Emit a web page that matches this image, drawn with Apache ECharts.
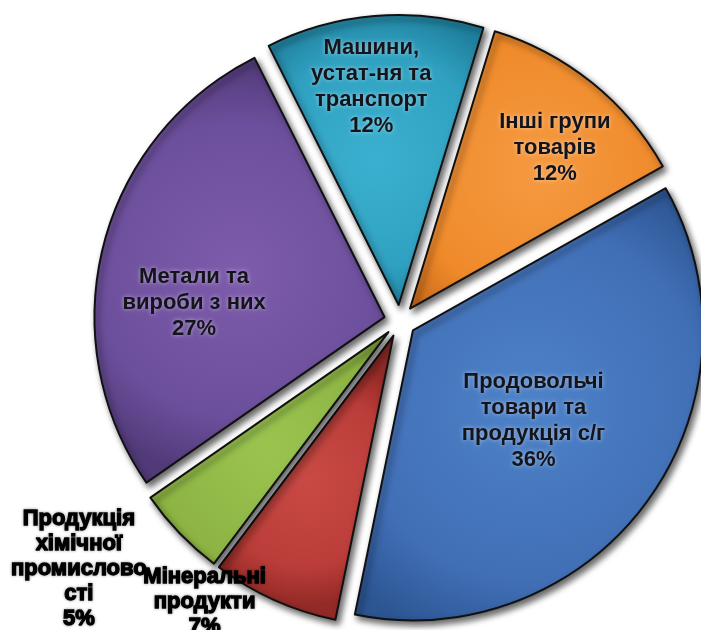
<!DOCTYPE html>
<html>
<head>
<meta charset="utf-8">
<style>
  html, body { margin: 0; padding: 0; background: #ffffff; }
  #chart { width: 701px; height: 630px; }
</style>
<script src="https://cdn.jsdelivr.net/npm/echarts@6/dist/echarts.min.js"></script>
</head>
<body>
<div id="chart"></div>
<script>
// Export structure by commodity group, per cent (clockwise from the top)
const categories = [
  'Інші групи\nтоварів',
  'Продовольчі\nтовари та\nпродукція с/г',
  'Мінеральні\nпродукти',
  'Продукція\nхімічної\nпромислово\nсті',
  'Метали та\nвироби з них',
  'Машини,\nустат-ня та\nтранспорт'
];
const values = [12, 36, 7, 5, 27, 12];

// slice fills: [light, base, dark]
const palette = [
  ['#f59a42', '#ef8a2a', '#c8681a'],
  ['#4d82c8', '#416fb6', '#2c5592'],
  ['#c94a45', '#bb3d39', '#942a27'],
  ['#9ac450', '#8db443', '#6c8c2e'],
  ['#7d5cab', '#6c4f9c', '#513a78'],
  ['#3cb0d0', '#2fa0c0', '#1f7f9c']
];
// label nudges away from the default inside position
const labelShift = [
  [52, -45], [1, 3], [-128, 131], [-203, 134], [-47, 22], [-15, -71]
];
const outsideLabel = [false, false, true, true, false, false];

const chart = echarts.init(document.getElementById('chart'), null, { renderer: 'canvas' });

const seriesData = categories.map((name, i) => ({
  name: name,
  value: values[i],
  selected: true,
  itemStyle: {
    color: {
      type: 'radial', x: 0.5, y: 0.5, r: 0.72,
      colorStops: [
        { offset: 0, color: palette[i][0] },
        { offset: 0.7, color: palette[i][1] },
        { offset: 1, color: palette[i][2] }
      ]
    }
  },
  label: outsideLabel[i] ? {
    color: '#000',
    textBorderColor: '#000',
    textBorderWidth: 1.3,
    textShadowColor: 'rgba(0,0,0,0.35)',
    textShadowBlur: 3,
    lineHeight: 25
  } : {}
}));

chart.setOption({
  animation: false,
  backgroundColor: '#ffffff',
  series: [{
    type: 'pie',
    center: [400, 321],
    radius: [0, 290],
    startAngle: 73,
    clockwise: true,
    selectedMode: 'multiple',
    selectedOffset: 16,
    avoidLabelOverlap: false,
    silent: true,
    itemStyle: {
      borderColor: '#111111',
      borderWidth: 2,
      shadowColor: 'rgba(0,0,0,0.6)',
      shadowBlur: 6,
      shadowOffsetX: 3,
      shadowOffsetY: 4
    },
    label: {
      show: true,
      position: 'inside',
      formatter: '{b}\n{c}%',
      fontFamily: 'Liberation Sans, Arial, sans-serif',
      fontWeight: 'bold',
      fontSize: 22,
      lineHeight: 26,
      color: '#14141c',
      textShadowColor: 'rgba(255,255,255,0.5)',
      textShadowBlur: 4,
      align: 'center'
    },
    labelLine: { show: false },
    labelLayout: function (params) {
      const s = labelShift[params.dataIndex];
      return { dx: s[0], dy: s[1] };
    },
    data: seriesData
  }]
});
</script>
</body>
</html>
